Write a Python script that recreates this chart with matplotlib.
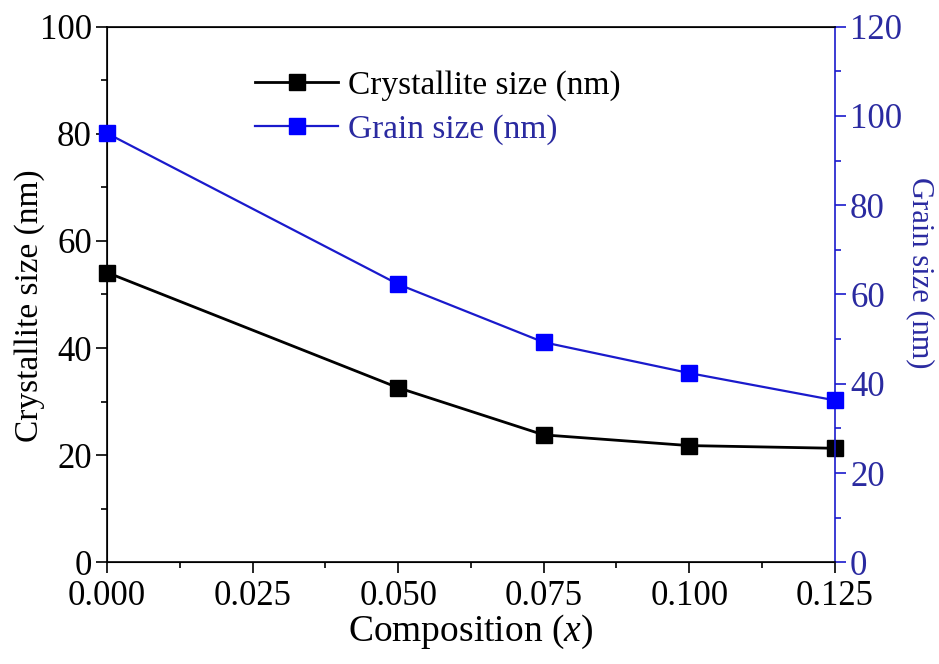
import matplotlib
matplotlib.use("Agg")
import matplotlib.pyplot as plt
from matplotlib.ticker import MultipleLocator

# composition and measured sizes
composition = [0.0, 0.05, 0.075, 0.1, 0.125]
crystallite_nm = [54.1, 32.6, 23.8, 21.8, 21.3]
grain_nm = [96.1, 62.3, 49.3, 42.4, 36.3]

plt.rcParams['font.family'] = ['Liberation Serif', 'DejaVu Serif']
plt.rcParams['mathtext.fontset'] = 'custom'
plt.rcParams['mathtext.it'] = 'Liberation Serif:italic'

blue = '#1a1acc'
blue_text = '#2a2aa0'

fig = plt.figure(figsize=(9.39, 6.64), dpi=100)
ax = fig.add_axes([0.114, 0.153, 0.775, 0.807])
ax2 = ax.twinx()

l1, = ax.plot(composition, crystallite_nm, color='black', lw=2, marker='s',
              ms=12, mfc='black', mec='black', label='Crystallite size (nm)',
              clip_on=False, zorder=3)
l2, = ax2.plot(composition, grain_nm, color=blue, lw=1.6, marker='s',
               ms=12, mfc='#0000ff', mec='#0000ff', label='Grain size (nm)',
               clip_on=False, zorder=3)

ax.set_xlim(0, 0.125)
ax.set_ylim(0, 100)
ax2.set_ylim(0, 120)

ax.xaxis.set_major_locator(MultipleLocator(0.025))
ax.xaxis.set_minor_locator(MultipleLocator(0.0125))
ax.yaxis.set_major_locator(MultipleLocator(20))
ax.yaxis.set_minor_locator(MultipleLocator(10))
ax2.yaxis.set_major_locator(MultipleLocator(20))
ax2.yaxis.set_minor_locator(MultipleLocator(10))
ax.xaxis.set_major_formatter(plt.FuncFormatter(lambda v, p: f'{v:.3f}'))

ax.tick_params(which='major', direction='out', length=8, width=1.2, labelsize=25, pad=3)
ax.tick_params(axis='x', which='major', pad=5)
ax.tick_params(which='minor', direction='out', length=4, width=1.2)
ax2.tick_params(which='major', direction='out', length=8, width=1.2,
                labelsize=25, colors=blue, labelcolor=blue_text, pad=3)
ax2.tick_params(which='minor', direction='out', length=4, width=1.2, colors=blue)

for s in ['left', 'bottom', 'top']:
    ax2.spines[s].set_linewidth(1.2)
ax2.spines['right'].set_color(blue)
ax2.spines['right'].set_linewidth(1.2)
ax.spines['right'].set_visible(False)

ax.set_xlabel('Composition ($\\mathit{x}$)', fontsize=27, va='center')
ax.set_ylabel('Crystallite size (nm)', fontsize=24, va='center')
ax2.set_ylabel('Grain size (nm)', fontsize=22, color=blue_text, rotation=270,
               va='center')
ax.xaxis.set_label_coords(0.5, -0.13)
ax.yaxis.set_label_coords(-0.106, 0.48)
ax2.yaxis.set_label_coords(1.118, 0.54)

leg = ax.legend(handles=[l1, l2], loc='upper left', bbox_to_anchor=(0.162, 0.975),
                frameon=False, fontsize=24, handlelength=2.5, handletextpad=0.3,
                labelspacing=0.4)
leg.get_texts()[1].set_color(blue_text)

fig.savefig('out.png', dpi=100)
